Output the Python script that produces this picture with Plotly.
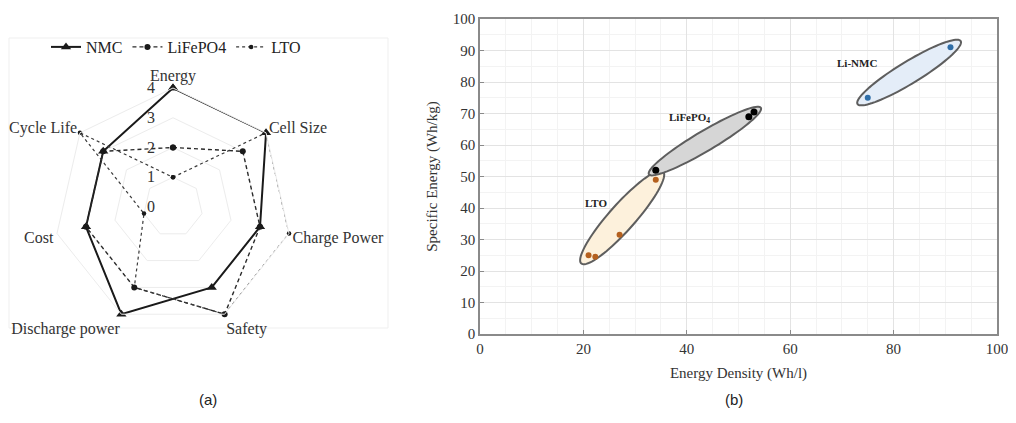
import numpy as np
import plotly.graph_objects as go

# ---------------- data ----------------
radar_axes = ["Energy", "Cell Size", "Charge Power", "Safety", "Discharge power", "Cost", "Cycle Life"]
nmc_scores = [4, 4, 3, 3, 4, 3, 3]
lfp_scores = [2, 3, 3, 4, 3, 3, 3]
lto_scores = [1, 4, 4, 4, 3, 1, 4]
radar_ticks = [0, 1, 2, 3, 4]

nmc_density = [75, 91]
nmc_specific = [75, 91]
lfp_density = [34, 52, 53]
lfp_specific = [52, 69, 70.5]
lto_density = [21, 22.3, 27, 34]
lto_specific = [25, 24.5, 31.5, 49]

x_ticks = [0, 20, 40, 60, 80, 100]
y_ticks = [0, 10, 20, 30, 40, 50, 60, 70, 80, 90, 100]

SERIF = "Liberation Serif, Times New Roman, serif"
SANS = "Liberation Sans, Arial, sans-serif"
W, H = 1008, 415
OFF = 8  # page body margin

def P(x):
    return (x - OFF) / W

def Q(y):
    return 1 - (y - OFF) / H

fig = go.Figure()

def closed(v):
    return list(v) + [v[0]]

th = closed(radar_axes)
fig.add_trace(go.Scatterpolar(r=closed(nmc_scores), theta=th, name="NMC", mode="lines+markers",
                              line=dict(color="#1a1a1a", width=2),
                              marker=dict(symbol="triangle-up", size=9, color="#1a1a1a"),
                              subplot="polar", legend="legend"))
fig.add_trace(go.Scatterpolar(r=closed(lfp_scores), theta=th, name="LiFePO4", mode="lines+markers",
                              line=dict(color="#2a2a2a", width=1.4, dash="4px,3px"),
                              marker=dict(symbol="circle", size=6, color="#1a1a1a"),
                              subplot="polar", legend="legend"))
fig.add_trace(go.Scatterpolar(r=closed(lto_scores), theta=th, name="LTO", mode="lines+markers",
                              line=dict(color="#3a3a3a", width=1.2, dash="dot"),
                              marker=dict(symbol="circle", size=4.5, color="#1a1a1a"),
                              subplot="polar", legend="legend"))

# ---------------- scatter (b) ----------------
xdom = [P(480), P(997)]
ydom = [Q(334), Q(19)]
sx = (xdom[1] - xdom[0]) * W / 100.0
sy = (ydom[1] - ydom[0]) * H / 100.0

def ellipse_path(xs, ys, pad, minor):
    xs = np.array(xs); ys = np.array(ys)
    i0, i1 = np.argmin(xs), np.argmax(xs)
    p0 = np.array([xs[i0] * sx, ys[i0] * sy])
    p1 = np.array([xs[i1] * sx, ys[i1] * sy])
    c = (p0 + p1) / 2
    d = p1 - p0
    L = np.linalg.norm(d)
    u = d / L
    n = np.array([-u[1], u[0]])
    a = L / 2 + pad
    t = np.linspace(0, 2 * np.pi, 90)
    pts = c[None, :] + np.outer(a * np.cos(t), u) + np.outer(minor * np.sin(t), n)
    px = pts[:, 0] / sx
    py = pts[:, 1] / sy
    return "M " + " L ".join(f"{x:.3f},{y:.3f}" for x, y in zip(px, py)) + " Z"

for xs, ys, fill, pad, minor in [
    (lto_density, lto_specific, "#fdf1dc", 11, 13),
    (lfp_density, lfp_specific, "#d6d6d6", 8, 10),
    (nmc_density, nmc_specific, "#e4edf8", 12, 11),
]:
    fig.add_shape(type="path", path=ellipse_path(xs, ys, pad, minor), xref="x", yref="y",
                  fillcolor=fill, line=dict(color="#5e5e5e", width=2), layer="between")

fig.add_trace(go.Scatter(x=lto_density, y=lto_specific, mode="markers", showlegend=False,
                         marker=dict(color="#b5601e", size=6), xaxis="x", yaxis="y"))
fig.add_trace(go.Scatter(x=lfp_density, y=lfp_specific, mode="markers", showlegend=False,
                         marker=dict(color="#000000", size=7), xaxis="x", yaxis="y"))
fig.add_trace(go.Scatter(x=nmc_density, y=nmc_specific, mode="markers", showlegend=False,
                         marker=dict(color="#2f6ea8", size=6), xaxis="x", yaxis="y"))

for txt, x, y in [("Li-NMC", 72.9, 86), ("LiFePO<sub>4</sub>", 40.6, 68.6), ("LTO", 22.4, 41.6)]:
    fig.add_annotation(text="<b>" + txt + "</b>", x=x, y=y, xref="x", yref="y", showarrow=False,
                       font=dict(family=SERIF, size=11, color="#222"))

# captions
fig.add_annotation(text="(a)", x=P(197), y=Q(410), xref="paper", yref="paper", showarrow=False,
                   font=dict(family=SANS, size=15, color="#222"))
fig.add_annotation(text="(b)", x=P(745), y=Q(410), xref="paper", yref="paper", showarrow=False,
                   font=dict(family=SANS, size=15, color="#222"))

# faint frame around radar panel
fig.add_shape(type="rect", x0=P(9), x1=P(388), y0=Q(328), y1=Q(38), xref="paper", yref="paper",
              line=dict(color="#efefef", width=1), layer="below")

axis_common = dict(showline=True, linecolor="#8a8a8a", linewidth=1.5, mirror=True,
                   ticks="inside", ticklen=4, tickcolor="#8a8a8a",
                   showgrid=True, gridcolor="#e3e3e3", gridwidth=1, zeroline=False,
                   automargin=False,
                   tickfont=dict(family=SERIF, size=15, color="#333"),
                   minor=dict(showgrid=True, gridcolor="#f3f3f3", gridwidth=1, nticks=5))

fig.update_layout(
    width=W, height=H,
    margin=dict(l=0, r=0, t=0, b=0, autoexpand=False),
    paper_bgcolor="white", plot_bgcolor="white",
    font=dict(family=SERIF, color="#333"),
    polar=dict(
        domain=dict(x=[P(54), P(292)], y=[Q(326), Q(88)]),
        bgcolor="white",
        gridshape="linear",
        angularaxis=dict(direction="clockwise", rotation=90, showline=True, linecolor="#ececec",
                         showgrid=False, ticks="",
                         tickfont=dict(family=SERIF, size=16, color="#333")),
        radialaxis=dict(range=[0, 4], tickvals=radar_ticks, angle=90, tickangle=90, side="counterclockwise",
                        showline=False, gridcolor="#ececec", ticks="outside", ticklen=12,
                        tickcolor="rgba(0,0,0,0)",
                        tickfont=dict(family=SERIF, size=16, color="#333")),
    ),
    legend=dict(orientation="h", x=P(176), xanchor="center", y=Q(47), yanchor="middle",
                font=dict(family=SERIF, size=16, color="#222"), itemwidth=30, tracegroupgap=0,
                bgcolor="rgba(0,0,0,0)"),
    xaxis=dict(domain=xdom, range=[0, 100], tickvals=x_ticks,
               title=dict(text="Energy Density (Wh/l)", font=dict(family=SERIF, size=15, color="#333"), standoff=12),
               **axis_common),
    yaxis=dict(domain=ydom, range=[0, 100], tickvals=y_ticks,
               title=dict(text="Specific Energy (Wh/kg)", font=dict(family=SERIF, size=15, color="#333"), standoff=12),
               **axis_common),
)

fig.write_html("out.html")
